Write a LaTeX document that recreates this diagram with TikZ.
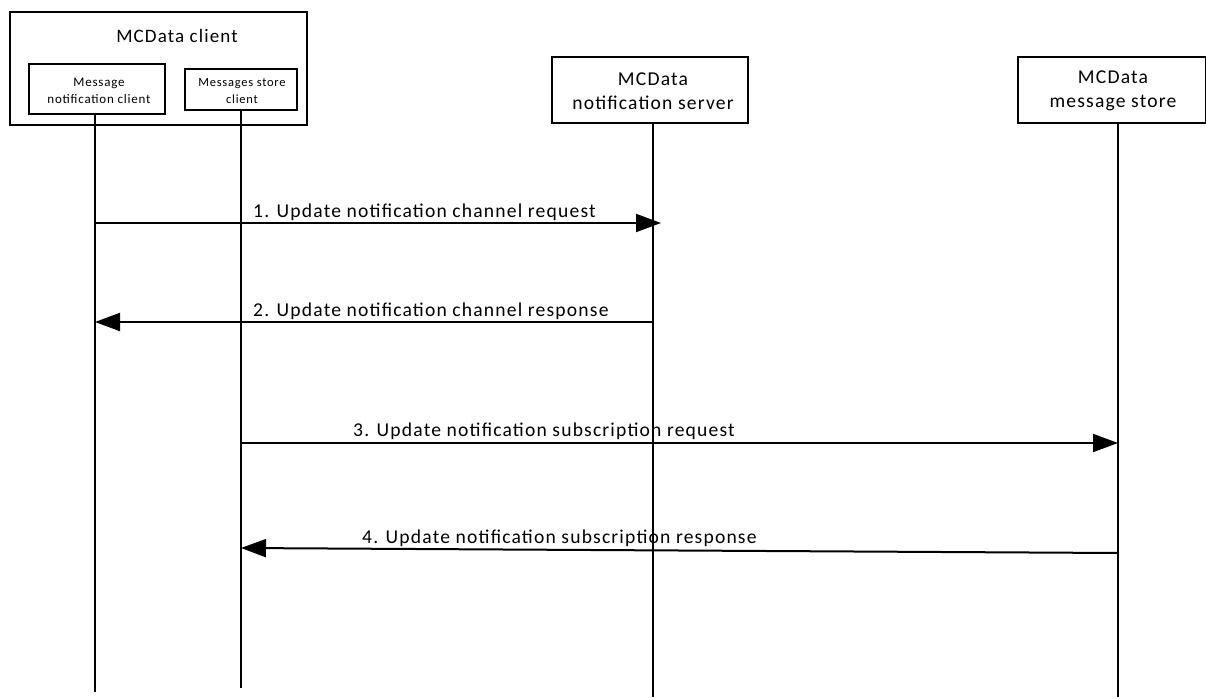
\documentclass[tikz,border=0pt]{standalone}
\usepackage{fontspec}
\setmainfont{Carlito}[LetterSpace=6]
\usetikzlibrary{arrows.meta}
\tikzset{
  box/.style={draw, line width=2.2pt, inner sep=0pt, align=center},
  life/.style={line width=1.8pt},
  msg/.style={line width=2pt, -{Triangle[length=25pt,width=18pt]}},
  lbl/.style={anchor=base west, inner sep=0pt, font=\fontsize{19.6}{21}\selectfont},
}
\begin{document}
\begin{tikzpicture}[x=1pt,y=-1pt]
\useasboundingbox (0,0) rectangle (1206,698);
\fill[white] (0,0) rectangle (1206,698);
% participants
\node[box, minimum width=297pt, minimum height=113pt] (client) at (158.5,68.5) {};
\node[inner sep=0pt, anchor=base, font=\fontsize{19}{21}\selectfont] (clientlbl) at (177,43) {MCData client};
\node[box, minimum width=136pt, minimum height=50pt] (mnc) at (97,89) {};
\node[align=center, inner sep=0pt, font=\fontsize{13}{17.5}\selectfont] (mnclbl) at (99,91) {Message\\notification client};
\node[box, minimum width=112pt, minimum height=41pt] (msc) at (241,89.5) {};
\node[align=center, inner sep=0pt, font=\fontsize{12.5}{17.5}\selectfont] (msclbl) at (242,91) {Messages store\\client};
\node[box, minimum width=196pt, minimum height=66pt] (ns) at (650,90) {};
\node[align=center, inner sep=0pt, font=\fontsize{19.6}{24}\selectfont] (nslbl) at (653,91) {MCData\\notification server};
\node[box, minimum width=188pt, minimum height=66pt] (ms) at (1112,90) {};
\node[align=center, inner sep=0pt, font=\fontsize{19.6}{24}\selectfont] (mslbl) at (1113,91) {MCData\\message store};
% lifeline ends
\coordinate (e1) at (95,692);
\coordinate (e2) at (241,688);
\coordinate (e3) at (653,697);
\coordinate (e4) at (1118,697);
\draw[life] (95,114) -- (e1);
\draw[life] (msc.south) -- (e2);
\draw[life] (653,123) -- (e3);
\draw[life] (1118,123) -- (e4);
% message points
\coordinate (a1) at (95,223);  \coordinate (b1) at (661,223);
\coordinate (a2) at (653,322); \coordinate (b2) at (95,322);
\coordinate (a3) at (241,443); \coordinate (b3) at (1118,443);
\coordinate (a4) at (1118,553); \coordinate (b4) at (241,548);
\draw[msg] (a1) -- (b1);
\draw[msg] (a2) -- (b2);
\draw[msg] (a3) -- (b3);
\draw[msg] (a4) -- (b4);
\node[lbl] (l1) at (253,217) {1. Update notification channel request};
\node[lbl] (l2) at (253,316) {2. Update notification channel response};
\node[lbl] (l3) at (353,436) {3. Update notification subscription request};
\node[lbl] (l4) at (362,543) {4. Update notification subscription response};
\end{tikzpicture}
\end{document}
